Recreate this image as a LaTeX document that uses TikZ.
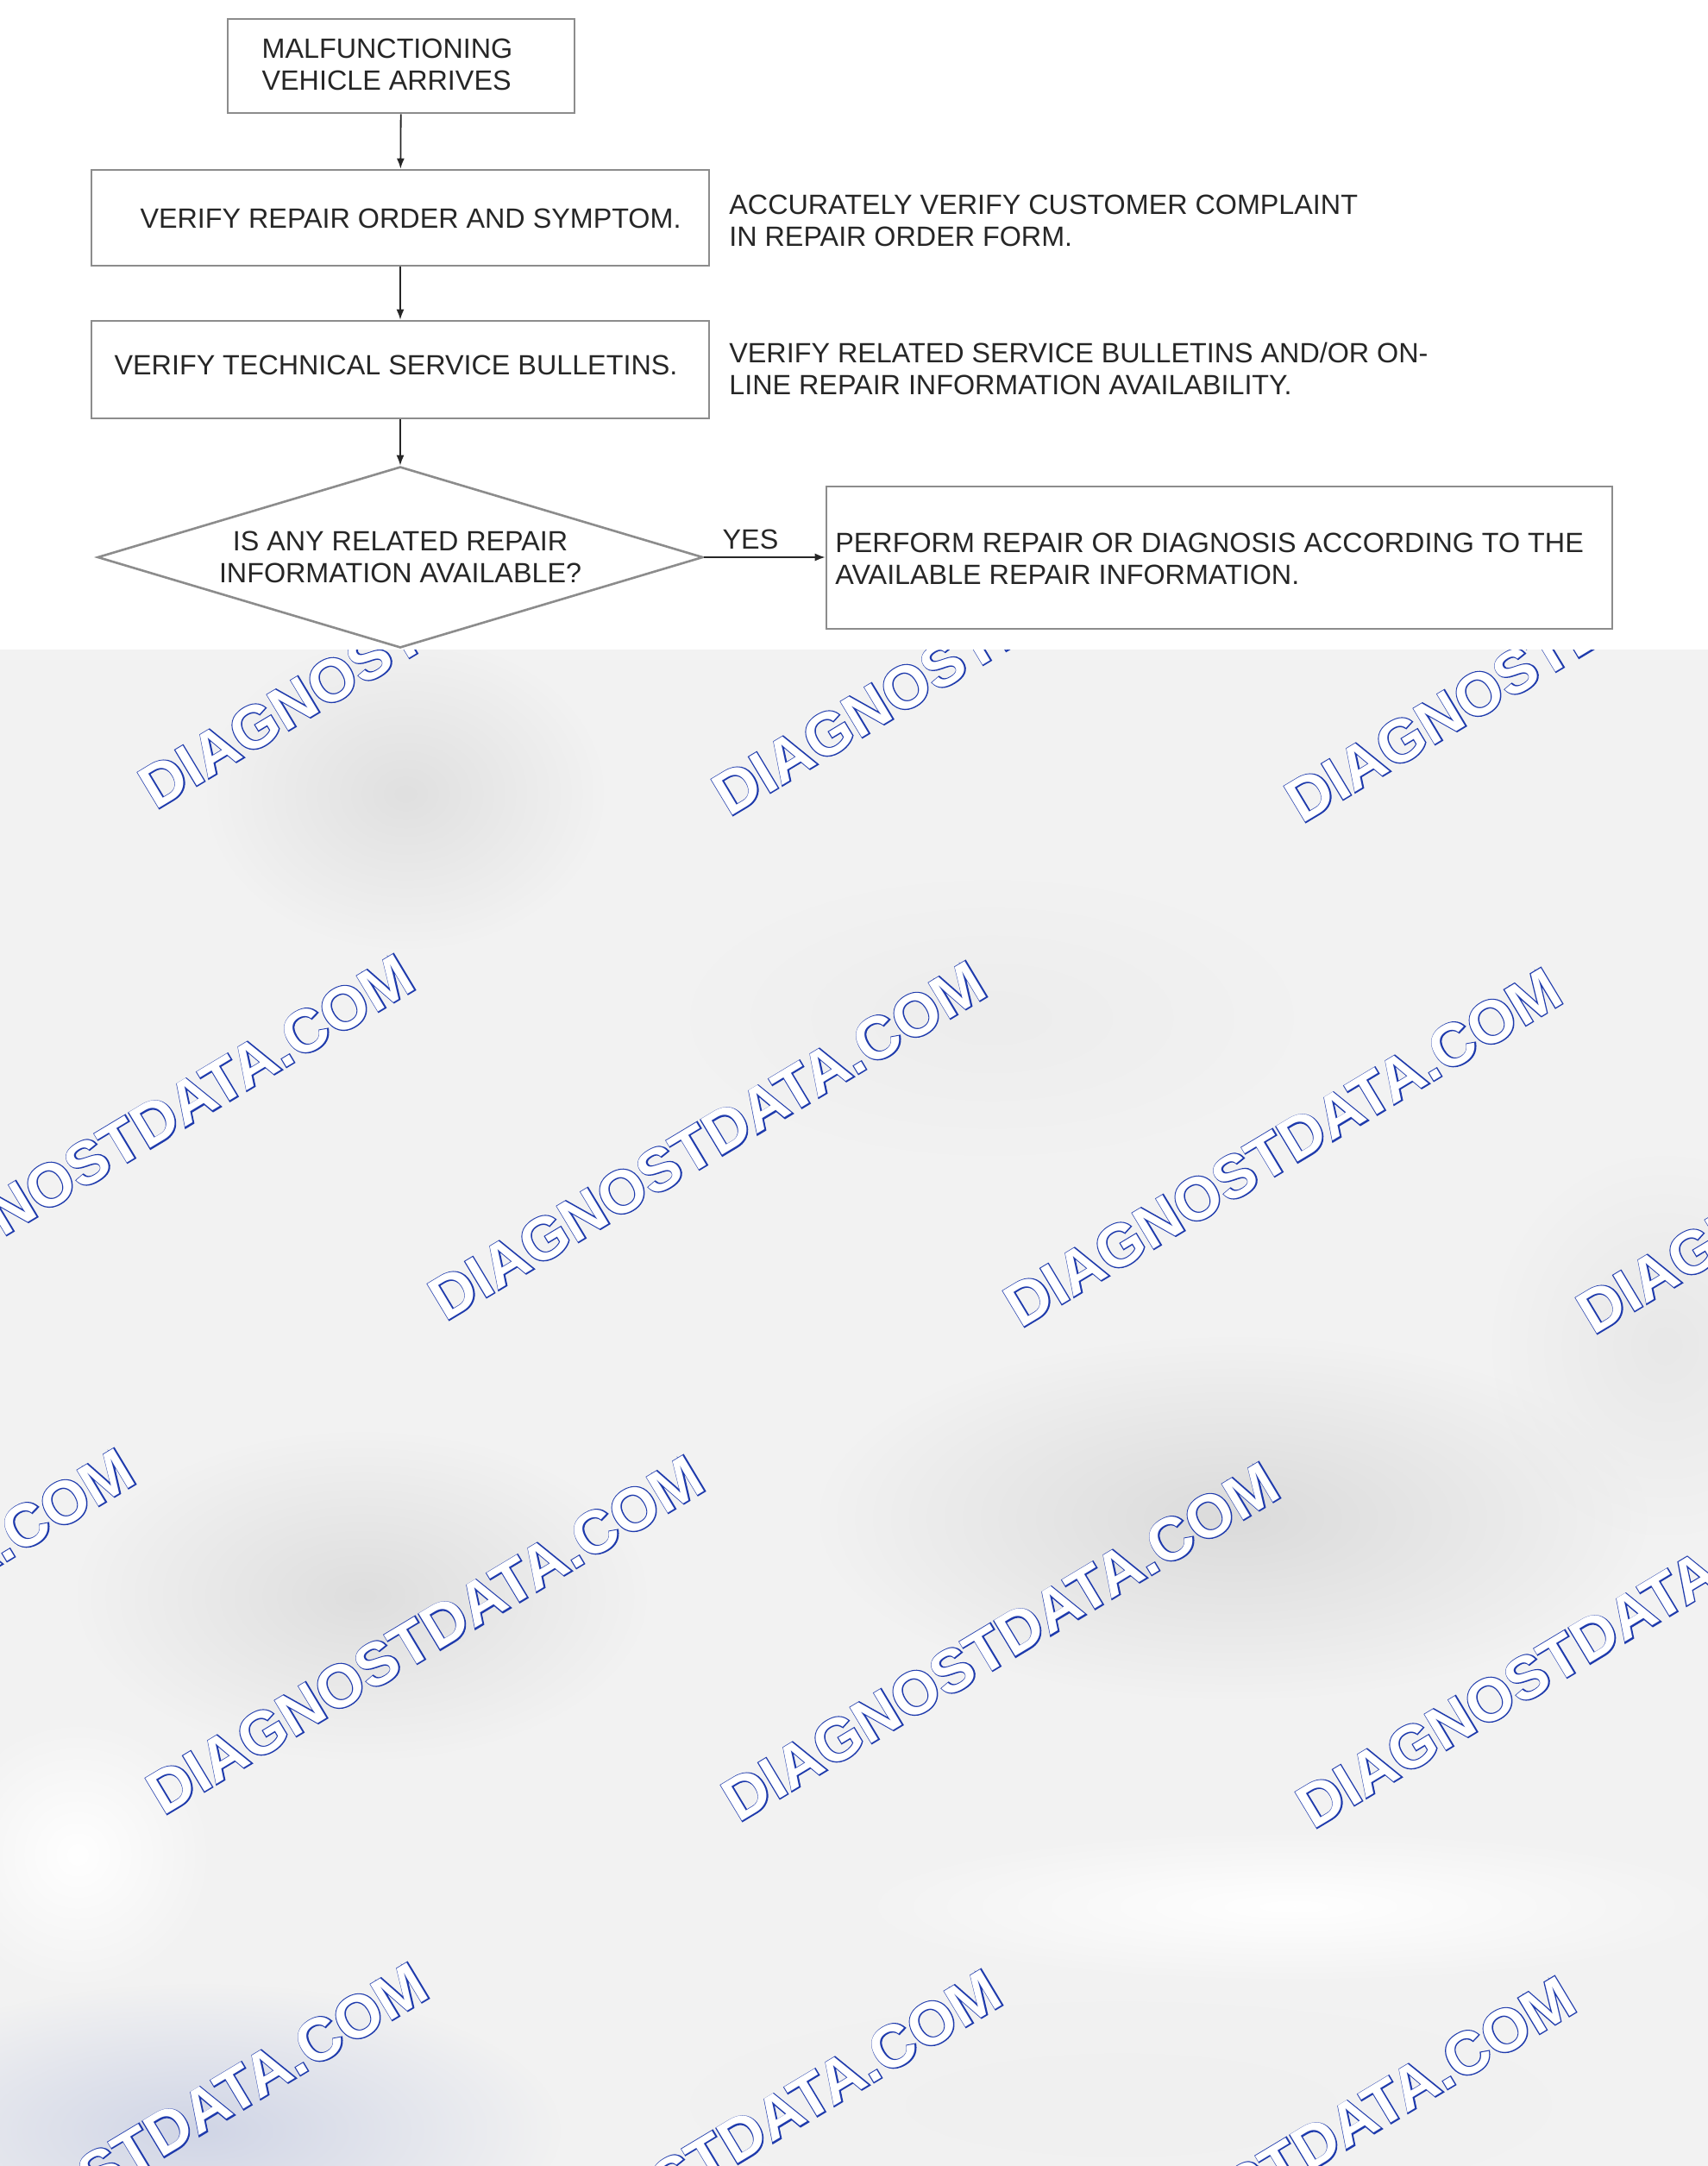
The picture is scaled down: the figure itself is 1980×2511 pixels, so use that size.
\documentclass[tikz,border=0pt]{standalone}
\usepackage{fontspec}
\setmainfont{Liberation Sans}
\newfontfamily\wmfont{Liberation Sans Bold}
\newfontfamily\wmedgefont{Liberation Sans Bold}[FakeBold=3.6]
\usetikzlibrary{shapes.geometric,arrows.meta,fadings}
\definecolor{boxline}{HTML}{8C8C8C}
\definecolor{inktext}{HTML}{262626}
\definecolor{wmblue}{RGB}{30,58,172}
\definecolor{paper}{HTML}{F2F2F2}
\definecolor{bluegray}{RGB}{208,213,230}
\tikzfading[name=blobfade, inner color=transparent!0, outer color=transparent!100]

\begin{document}
\begin{tikzpicture}[x=0.5pt, y=-0.5pt,
        stepbox/.style={draw=boxline, line width=1.3pt, inner sep=0pt},
        asktile/.style={draw=boxline, line width=1.3pt, diamond, aspect=3.34, inner sep=0pt},
        steptext/.style={text=inktext, font=\fontsize{16.15}{18.5}\selectfont, inner sep=0pt},
        flowarrow/.style={draw=inktext, line width=0.9pt, -{Latex[length=6pt, width=4.5pt]}},
        wmedge/.style={text=wmblue, font=\wmedgefont\fontsize{35}{35}\selectfont, rotate=31, inner sep=0pt},
        wmfill/.style={text=white, font=\wmfont\fontsize{35}{35}\selectfont, rotate=31, inner sep=0pt},
        blob/.style={path fading=blobfade}]
        \useasboundingbox (0, 0) rectangle (1980, 2511);
        \fill[paper] (0, 753) rectangle (1980, 2511);
        \fill[black!12, blob] (470, 920) ellipse [x radius=230, y radius=180];
        \fill[black!7, blob] (1150, 1180) ellipse [x radius=350, y radius=160];
        \fill[black!13, blob] (420, 1850) ellipse [x radius=330, y radius=190];
        \fill[black!14, blob] (1430, 1760) ellipse [x radius=480, y radius=210];
        \fill[black!9, blob] (1930, 1560) ellipse [x radius=200, y radius=220];
        \fill[bluegray, blob] (230, 2470) ellipse [x radius=420, y radius=170];
        \fill[black!6, blob] (1300, 2440) ellipse [x radius=500, y radius=120];
        \fill[white, blob] (1500, 2210) ellipse [x radius=520, y radius=90];
        \fill[white, blob] (90, 2150) ellipse [x radius=160, y radius=160];
        \begin{scope}
        \clip (0, 753) rectangle (1980, 2511);
        \foreach \wx/\wy [count=\wi] in {484/729, 1149/737, 1813/745,
                157/1314, 820/1322, 1487/1330, 2151/1338,
                -167/1887, 493/1895, 1160/1903, 1826/1911,
                173/2483, 838/2491, 1503/2499} {
                \node[wmedge] (wmedge\wi) at (\wx, \wy) {DIAGNOSTDATA.COM};
                \node[wmfill] (wmfill\wi) at (\wx, \wy) {DIAGNOSTDATA.COM};
        }
        \end{scope}
        \fill[white] (0, 0) rectangle (1980, 753);
        \node[stepbox, minimum width=201pt, minimum height=54.5pt] (arrive) at (465, 76.5) {};
        \node[stepbox, minimum width=358pt, minimum height=55.5pt] (verify) at (464, 252.5) {};
        \node[stepbox, minimum width=358pt, minimum height=56.5pt] (bulletin) at (464, 428.5) {};
        \node[asktile, minimum width=351pt, minimum height=105pt] (ask) at (464, 646) {};
        \node[stepbox, minimum width=455.5pt, minimum height=82.5pt] (perform) at (1413.5, 646.5) {};
        \node[steptext, align=left] (arrivetxt) at (449, 75) {MALFUNCTIONING\\VEHICLE ARRIVES};
        \node[steptext] (verifytxt) at (476, 253) {VERIFY REPAIR ORDER AND SYMPTOM.};
        \node[steptext] (bulletintxt) at (459, 423) {VERIFY TECHNICAL SERVICE BULLETINS.};
        \node[steptext, align=center] (asktxt) at (464, 646) {IS ANY RELATED REPAIR\\INFORMATION AVAILABLE?};
        \node[steptext, align=left, anchor=west] (performtxt) at (968, 647.5) {PERFORM REPAIR OR DIAGNOSIS ACCORDING TO THE\\AVAILABLE REPAIR INFORMATION.};
        \node[steptext, align=left, anchor=west] (verifynote) at (845, 256) {ACCURATELY VERIFY CUSTOMER COMPLAINT\\IN REPAIR ORDER FORM.};
        \node[steptext, align=left, anchor=west] (bulletinnote) at (845, 427.5) {VERIFY RELATED SERVICE BULLETINS AND/OR ON-\\LINE REPAIR INFORMATION AVAILABILITY.};
        \node[steptext] (yes) at (870, 625) {YES};
        \draw[flowarrow] (arrive) -- (verify);
        \draw[flowarrow] (verify) -- (bulletin);
        \draw[flowarrow] (bulletin) -- (ask);
        \draw[flowarrow] (ask.east) -- (ask.east -| perform.west);
      \end{tikzpicture}
\end{document}
